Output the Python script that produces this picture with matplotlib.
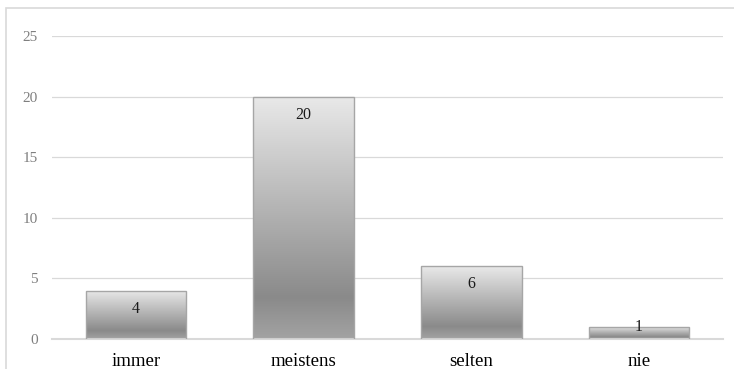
import numpy as np
import matplotlib.pyplot as plt
from matplotlib.colors import LinearSegmentedColormap
from matplotlib.patches import Rectangle

categories = ['immer', 'meistens', 'selten', 'nie']
values = [4, 20, 6, 1]
yticks = [0, 5, 10, 15, 20, 25]

plt.rcParams['font.family'] = ['Liberation Serif', 'DejaVu Serif']

fig = plt.figure(figsize=(7.34, 3.69), dpi=100)
ax = fig.add_axes([52 / 734, 1 - 339 / 369, (723 - 52) / 734, (339 - 36) / 369])

# frame around the chart area (right and bottom edges run off the picture)
fig.patches.append(Rectangle((6 / 734, -0.1), 1.0, 1 - 8 / 369 + 0.1, transform=fig.transFigure,
                             fill=False, edgecolor='#d9d9d9', linewidth=1.2, zorder=0))

grad = LinearSegmentedColormap.from_list('g', [(0, '#a3a3a3'), (0.17, '#8a8a8a'), (1, '#e9e9e9')])
ramp = np.linspace(0, 1, 256).reshape(-1, 1)

x = np.arange(len(categories))
bars = ax.bar(x, values, width=0.6, facecolor='none', edgecolor='#a6a6a6', linewidth=1, zorder=3)
for b, v in zip(bars, values):
    x0 = b.get_x()
    im = ax.imshow(ramp, cmap=grad, aspect='auto', origin='lower',
                   extent=(x0, x0 + b.get_width(), 0, v), zorder=2)
    im.set_clip_path(b)
    off = -18 if v > 2 else 0
    ax.annotate(str(v), (b.get_x() + b.get_width() / 2, v), xytext=(0, off),
                textcoords='offset pixels',
                ha='center', va='center', fontsize=11.5, color='#1a1a1a', zorder=4)

ax.set_xlim(-0.5, len(categories) - 0.5)
ax.set_ylim(0, 25)
ax.set_yticks(yticks)
ax.set_xticks(x)
ax.set_xticklabels(categories, fontsize=13.5, color='black')
ax.tick_params(axis='y', length=0, pad=10, labelcolor='#7f7f7f', labelsize=11)
ax.tick_params(axis='x', length=0, pad=10)
ax.grid(axis='y', color='#d9d9d9', linewidth=0.9, zorder=0)
ax.set_axisbelow(True)
for s in ['top', 'right', 'left']:
    ax.spines[s].set_visible(False)
ax.spines['bottom'].set_color('#d9d9d9')
ax.spines['bottom'].set_linewidth(1.5)

fig.savefig('out.png', dpi=100)
